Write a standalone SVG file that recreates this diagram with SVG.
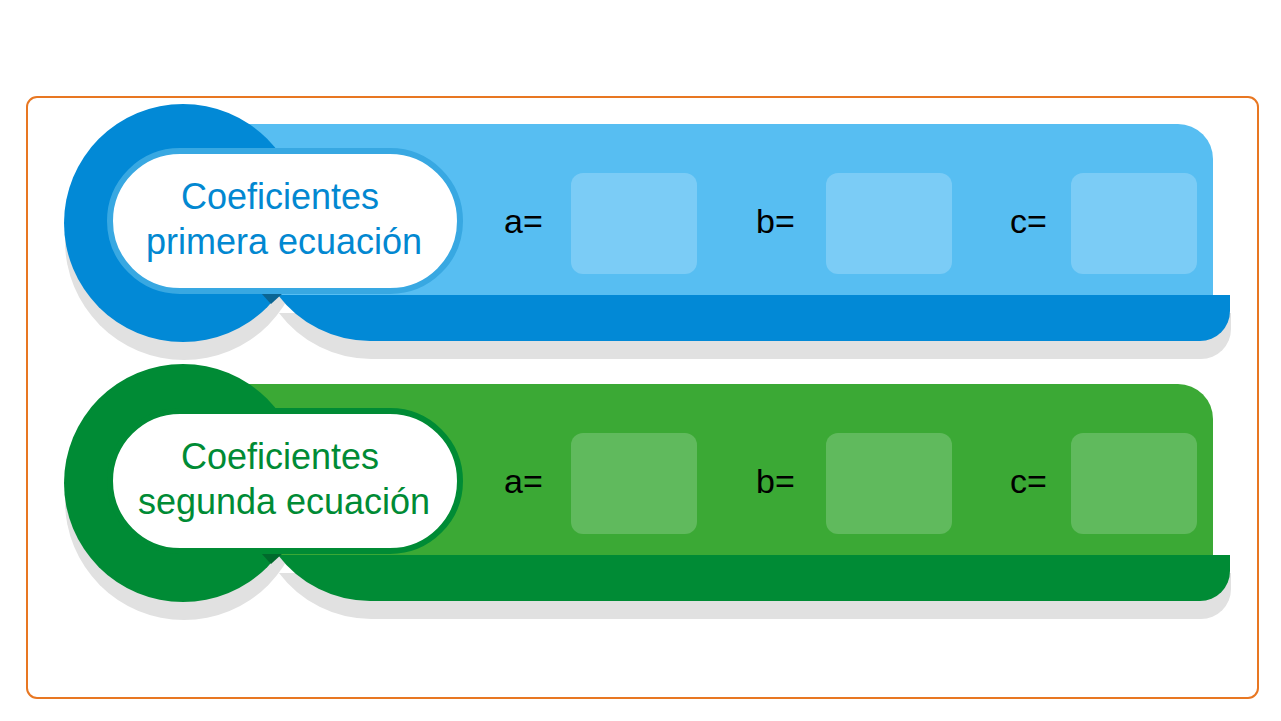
<svg xmlns="http://www.w3.org/2000/svg" width="1281" height="721" viewBox="0 0 1281 721">
<style>
.shadow{fill:#e1e1e1}
.title{font-family:"Liberation Sans",Arial,sans-serif;font-size:36px;text-anchor:middle}
.lbl{font-family:"Liberation Sans",Arial,sans-serif;font-size:34px;fill:#000}
.b .dark{fill:#0289d6}.b .light{fill:#57bef2}.b .box{fill:#7bccf6}.b .pill{fill:#fff;stroke:#38a8e2;stroke-width:6}.b .title{fill:#0288d1}.b .notch{fill:#0a6593}
.g .dark{fill:#008b35}.g .light{fill:#3ba935}.g .box{fill:#60ba5d}.g .pill{fill:#fff;stroke:#008b35;stroke-width:6}.g .title{fill:#008b35}.g .notch{fill:#006a2c}
</style>
<defs>
<g id="shape">
<circle cx="183" cy="223" r="119"/>
<path d="M278 295 A115 115 0 0 0 370 341 L1200 341 A30 30 0 0 0 1230 311 L1230 295 Z"/>
</g>
</defs>
<rect x="27" y="97" width="1231" height="601" rx="10" fill="#fff" stroke="#e87722" stroke-width="2"/>
<g id="blue" class="b">
<use href="#shape" class="shadow" transform="translate(1,18)"/>
<path class="light" d="M200 124 L1178 124 A35 35 0 0 1 1213 159 L1213 296 L200 296 Z"/>
<use href="#shape" class="dark"/>
<polygon class="notch" points="261,293 283,293 271,304"/>
<rect class="pill" x="110" y="151" width="350" height="140" rx="70"/>
<text class="title" x="280" y="209">Coeficientes</text>
<text class="title" x="284" y="254">primera ecuación</text>
<text class="lbl" x="504" y="233">a=</text>
<rect class="box" x="571" y="173" width="126" height="101" rx="12"/>
<text class="lbl" x="756" y="233">b=</text>
<rect class="box" x="826" y="173" width="126" height="101" rx="12"/>
<text class="lbl" x="1010" y="233">c=</text>
<rect class="box" x="1071" y="173" width="126" height="101" rx="12"/>
</g>
<g id="green" class="g" transform="translate(0,260)">
<use href="#shape" class="shadow" transform="translate(1,18)"/>
<path class="light" d="M200 124 L1178 124 A35 35 0 0 1 1213 159 L1213 296 L200 296 Z"/>
<use href="#shape" class="dark"/>
<polygon class="notch" points="261,293 283,293 271,304"/>
<rect class="pill" x="110" y="151" width="350" height="140" rx="70"/>
<text class="title" x="280" y="209">Coeficientes</text>
<text class="title" x="284" y="254">segunda ecuación</text>
<text class="lbl" x="504" y="233">a=</text>
<rect class="box" x="571" y="173" width="126" height="101" rx="12"/>
<text class="lbl" x="756" y="233">b=</text>
<rect class="box" x="826" y="173" width="126" height="101" rx="12"/>
<text class="lbl" x="1010" y="233">c=</text>
<rect class="box" x="1071" y="173" width="126" height="101" rx="12"/>
</g>
<g id="connectors"/>
</svg>
